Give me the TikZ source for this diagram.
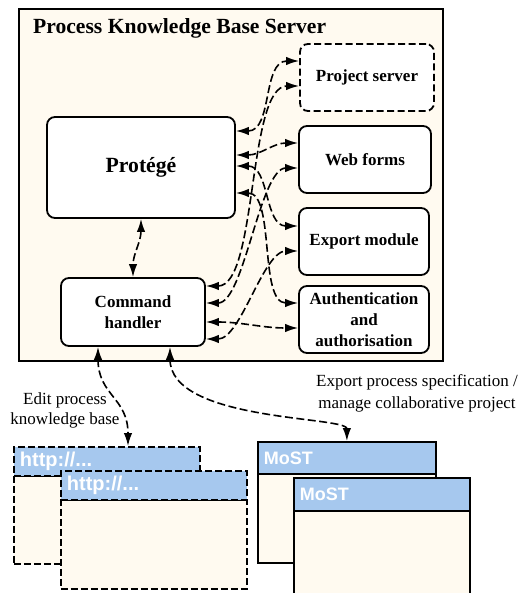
\documentclass[tikz,border=0pt]{standalone}
\usepackage{fontspec}
\setmainfont{Liberation Serif}
\setsansfont{Liberation Sans}
\usetikzlibrary{arrows.meta}

\definecolor{cream}{RGB}{255,250,240}
\definecolor{barblue}{RGB}{166,200,238}

\tikzset{
  box/.style={draw, rounded corners=8pt, fill=white, line width=1.8pt, align=center,
    inner sep=2pt, font=\bfseries\fontsize{17}{21}\selectfont},
  link/.style={line width=1.6pt, dash pattern=on 8pt off 3.5pt,
    {Latex[length=13pt,width=8.5pt]}-{Latex[length=13pt,width=8.5pt]}},
  pane/.style={draw, fill=cream, line width=1.8pt, anchor=north west, inner sep=0pt},
  bar/.style={draw, fill=barblue, line width=1.8pt, anchor=north west, text=white,
    align=left, inner xsep=6pt, inner ysep=0pt},
  note/.style={align=center, inner sep=0pt, font=\fontsize{17}{20}\selectfont}
}

\begin{document}
\begin{tikzpicture}[x=1pt,y=-1pt]
  \useasboundingbox (0,0) rectangle (523,593);

  % server frame
  \node[draw, fill=cream, line width=1.8pt, minimum width=424pt, minimum height=352pt] (server) at (231,185) {};
  \node[anchor=base west, inner sep=0pt, font=\bfseries\fontsize{21.6}{26}\selectfont] (title) at (33,34) {Process Knowledge Base Server};

  \begin{scope}[every node/.style={box}]
    \node (prot) at (141,167.5) [minimum width=188pt, minimum height=101pt, font=\bfseries\fontsize{21.7}{26}\selectfont] {Protégé};
    \node (cmd)  at (133,312)   [minimum width=144pt, minimum height=68pt] {Command\\handler};
    \node (prj)  at (367,77.5)  [minimum width=134pt, minimum height=67pt, dash pattern=on 7pt off 3.5pt] {Project server};
    \node (web)  at (365,159.5) [minimum width=132pt, minimum height=67pt] {Web forms};
    \node (exp)  at (364,241.5) [minimum width=130pt, minimum height=67pt] {Export module};
    \node (auth) at (364,319.5) [minimum width=130pt, minimum height=67pt] {Authentication\\and\\authorisation};
  \end{scope}

  % browser windows
  \begin{scope}[every node/.append style={dash pattern=on 7pt off 3pt}]
    \node[pane, minimum width=186pt, minimum height=88pt] (httpabody) at (13,475) {};
    \node[bar, text width=174pt, minimum height=29pt, font=\sffamily\bfseries\fontsize{20}{24}\selectfont] (httpa) at (13,446) {http://...};
    \node[pane, minimum width=186pt, minimum height=89pt] (httpbbody) at (60,499) {};
    \node[bar, text width=174pt, minimum height=29pt, font=\sffamily\bfseries\fontsize{20}{24}\selectfont] (httpb) at (60,470) {http://...};
  \end{scope}

  % MoST windows
  \node[pane, minimum width=178pt, minimum height=89pt] (mostabody) at (257,473) {};
  \node[bar, text width=166pt, minimum height=32pt, font=\sffamily\bfseries\fontsize{18}{22}\selectfont] (mosta) at (257,441) {MoST};
  \node[pane, minimum width=176pt, minimum height=90pt] (mostbbody) at (293,510) {};
  \node[bar, text width=164pt, minimum height=33pt, font=\sffamily\bfseries\fontsize{18}{22}\selectfont] (mostb) at (293,477) {MoST};

  \node[note] (edit) at (65,410) {Edit process\\knowledge base};
  \node[note, font=\fontsize{17}{22}\selectfont] (export) at (417,393) {Export process specification /\\manage collaborative project};

  \begin{scope}[every edge/.style={draw, link}]
    \path (prot.south) edge[out=-90, in=90] (cmd.north);

    \path (prot.east |- 0,131) edge[out=0, in=180] (prj.west |- 0,61);
    \path (prot.east |- 0,155) edge[out=0, in=180] (web.west |- 0,143);
    \path (prot.east |- 0,166) edge[out=0, in=180] (exp.west |- 0,226);
    \path (prot.east |- 0,193) edge[out=0, in=180, looseness=.8] (auth.west |- 0,303);

    \path (cmd.east |- 0,286) edge[out=0, in=180, looseness=.6] (prj.west |- 0,86);
    \path (cmd.east |- 0,303) edge[out=0, in=180, looseness=.6] (web.west |- 0,168);
    \path (cmd.east |- 0,322) edge[out=0, in=180] (auth.west |- 0,328);
    \path (cmd.east |- 0,339) edge[out=0, in=180, looseness=.7] (exp.west |- 0,251);

    \path (cmd.south -| 98,0) edge[out=-90, in=90, looseness=1.2] (httpa.north -| 128,0);
  \end{scope}
  \draw[link] (cmd.south -| 170,0) .. controls +(0,75) and +(0,-25) .. (mosta.north);

\end{tikzpicture}
\end{document}
